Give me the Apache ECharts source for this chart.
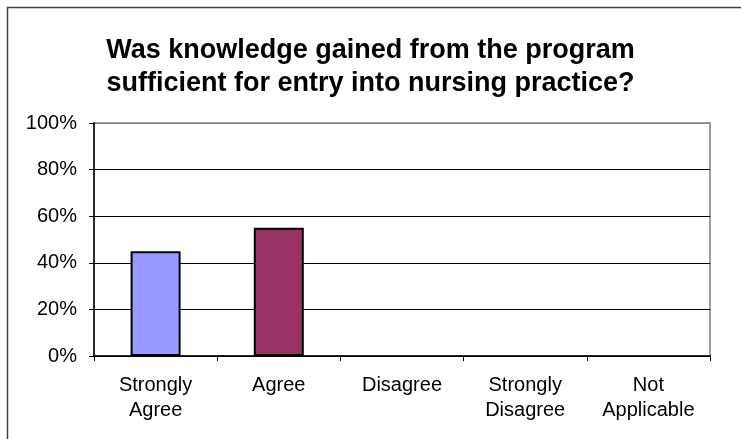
<!DOCTYPE html>
<html>
<head>
<meta charset="utf-8">
<script src="https://cdn.jsdelivr.net/npm/echarts@6/dist/echarts.min.js"></script>
<style>
html,body{margin:0;padding:0;background:#fff;}
#main{width:741px;height:439px;}
</style>
</head>
<body>
<div id="main"></div>
<script>
// 标题和数据
var chartTitle = 'Was knowledge gained from the program\nsufficient for entry into nursing practice?';
var categories = ['Strongly\nAgree', 'Agree', 'Disagree', 'Strongly\nDisagree', 'Not\nApplicable'];
var percentValues = [45, 55, 0, 0, 0];
var barColors = ['#9999FF', '#993366', '#FFFFCC', '#CCFFFF', '#660066'];
var yTicks = [0, 20, 40, 60, 80, 100];

var FONT = 'Arial, "Liberation Sans", sans-serif';

// 柱子数据，0值不画边框
function buildBars(){
    var list = [];
    for(var i=0;i<percentValues.length;i++){
        list.push({
            value: percentValues[i],
            itemStyle: {color: barColors[i], borderWidth: percentValues[i] ? 2 : 0}
        });
    }
    return list;
}

var option = {
    animation: false,
    backgroundColor: '#fff',
    title: {
        text: chartTitle, left: 'center', top: 34, padding: 0,
        textStyle: {fontFamily: FONT, fontSize: 27, fontWeight: 'bold', color: '#000', lineHeight: 33}
    },
    graphic: [{
        type: 'rect', shape: {x: 7.5, y: 7.5, width: 760, height: 460},
        style: {fill: 'none', stroke: '#404040', lineWidth: 1.5}, silent: true, z: -1
    }],
    grid: {left: 94, right: 31, top: 123, bottom: 83, show: true, borderColor: '#808080', borderWidth: 1.5},
    xAxis: {
        type: 'category', data: categories,
        axisLine: {lineStyle: {color: '#000', width: 1.5}},
        axisTick: {show: true, alignWithLabel: false, length: 5, lineStyle: {color: '#000'}},
        axisLabel: {fontFamily: FONT, fontSize: 20, color: '#000', lineHeight: 25, margin: 17, interval: 0}
    },
    yAxis: {
        type: 'value', min: yTicks[0], max: yTicks[yTicks.length-1], interval: 20,
        axisLine: {show: true, lineStyle: {color: '#000', width: 1.5}},
        axisTick: {show: true, length: 5, lineStyle: {color: '#000'}},
        axisLabel: {fontFamily: FONT, fontSize: 20, color: '#000', formatter: '{value}%', margin: 17},
        splitLine: {show: true, lineStyle: {color: ['#000','#000','#000','#000','#000','#808080'], width: 1}}
    },
    series: [{
        type: 'bar', barWidth: 50,
        itemStyle: {borderColor: '#000', borderWidth: 2},
        data: buildBars()
    }]
};

var myChart = echarts.init(document.getElementById('main'));
myChart.setOption(option);
</script>
</body>
</html>
